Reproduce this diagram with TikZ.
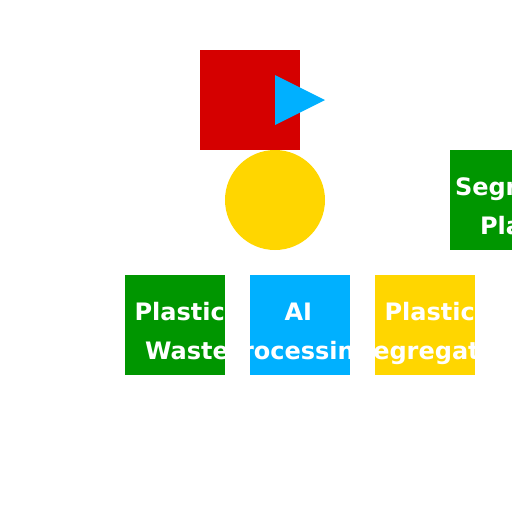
\documentclass[tikz,border=0pt]{standalone}
\usepackage{fontspec}
\setmainfont{DejaVu Sans}
\definecolor{cRed}{HTML}{D50000}
\definecolor{cBlue}{HTML}{00B0FF}
\definecolor{cYellow}{HTML}{FFD600}
\definecolor{cGreen}{HTML}{009600}
\tikzset{
  box/.style={rectangle, inner sep=0pt, outer sep=0pt, minimum width=100pt, minimum height=100pt, anchor=north west},
  lbl/.style={inner sep=0pt, outer sep=0pt, anchor=base west, text=white, font=\fontsize{24}{28}\selectfont\bfseries}
}
\begin{document}
\begin{tikzpicture}[x=1pt,y=-1pt]
\useasboundingbox (0,0) rectangle (512,512);
\clip (0,0) rectangle (512,512);
% top shapes
\node[box, fill=cRed] (red) at (200,50) {};
\fill[cBlue] (275,75) coordinate (t1) -- (275,125) coordinate (t2) -- (325,100) coordinate (t3) -- cycle;
\node[circle, fill=cYellow, inner sep=0pt, minimum size=100pt] (sun) at (275,200) {};
% right box (clipped)
\node[box, fill=cGreen] (seg) at (450,150) {};
\node[lbl] (segA) at (455,195.5) {Segregated};
\node[lbl] (segB) at (480,234.5) {Plastic};
% bottom row
\node[box, fill=cGreen] (waste) at (125,275) {};
\node[lbl] (wasteA) at (134.5,320.5) {Plastic};
\node[lbl] (wasteB) at (145,359.5) {Waste};
\node[box, fill=cBlue] (ai) at (250,275) {};
\node[lbl] (aiA) at (284.5,320.5) {AI};
\node[lbl] (aiB) at (224.5,359.5) {Processing};
\node[box, fill=cYellow] (sort) at (375,275) {};
\node[lbl] (sortA) at (384.5,320.5) {Plastic};
\node[lbl] (sortB) at (356,359.5) {Segregation};
\end{tikzpicture}
\end{document}
